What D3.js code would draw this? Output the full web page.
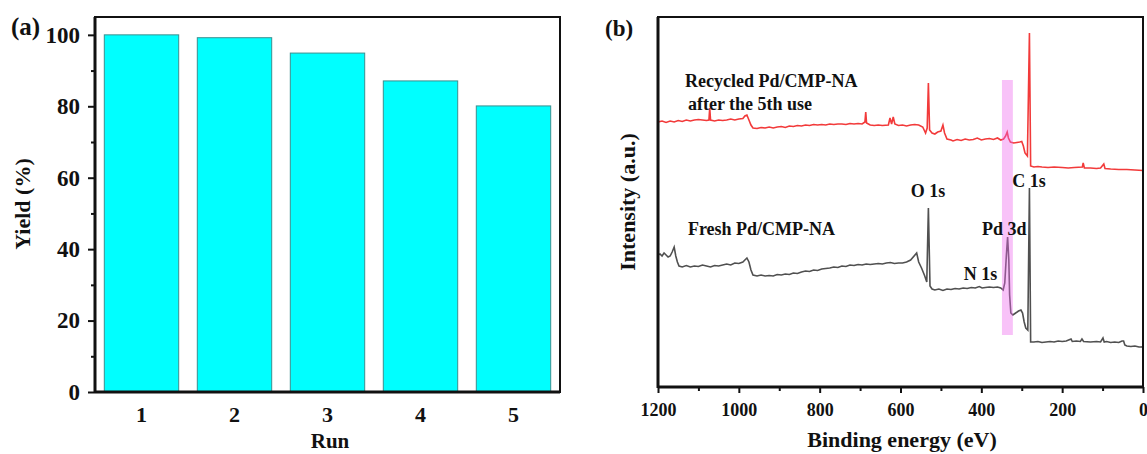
<!DOCTYPE html>
<html>
<head>
<meta charset="utf-8">
<script src="https://cdn.jsdelivr.net/npm/d3@7"></script>
<style>
  body { margin: 0; background: #fff; }
  svg text { font-family: "Liberation Serif", "Times New Roman", serif; font-weight: bold; fill: #111; }
</style>
</head>
<body>
<div id="chart"></div>
<script>
// panel (a) data
var runs = ["1", "2", "3", "4", "5"];
var yields = [100, 99.2, 94.9, 87.1, 80.1];
var yieldTicks = [0, 20, 40, 60, 80, 100];
var yieldMinor = [10, 30, 50, 70, 90];

// panel (b) data: [binding energy eV, intensity a.u.]
var energyTicks = [1200, 1000, 800, 600, 400, 200, 0];
var energyMinor = [1100, 900, 700, 500, 300, 100];
var recycled = [
  [1200,265],[1190,266],[1180,264.5],[1170,266],[1160,265],[1150,266.5],[1140,265.5],[1130,267],
  [1120,266],[1110,267],[1100,267.5],[1090,267],[1080,266.5],[1074,267],[1072,279],[1070,267],
  [1060,266],[1050,267],[1040,266.5],[1030,267],[1020,268],[1010,267],[1000,268],[990,268.5],
  [985,271],[980,272],[975,267],[970,262],[965,259],[955,258.5],[945,259.5],[935,259],[925,260],
  [915,259],[905,260],[895,260.5],[885,259.5],[875,261],[865,260.5],[855,261.5],[845,261],
  [835,262],[825,261.5],[815,262.5],[805,262],[795,262.5],[785,262],[775,263],[765,262.5],
  [755,263],[745,263],[735,262.5],[725,263.5],[715,263],[705,263.5],[695,263],[688,265],
  [686,275],[684,264],[675,262],[665,261.5],[655,262],[645,261.5],[630,262],[626,269],[622,263],
  [618,270],[614,263],[605,261.5],[595,262],[585,261],[575,262],[565,262.5],[555,262],[545,260],
  [538,254],[534,259],[531,304],[528,257],[522,254],[515,253],[508,255],[500,256],[495,262],
  [491,254],[485,248],[475,247],[470,246],[460,247.5],[450,246.5],[440,248],[430,247],[420,247.5],
  [410,249],[400,247],[390,248],[380,248.5],[370,247.5],[360,249],[352,247],[345,248],[340,251],
  [336,255],[333,249],[328,245],[320,244],[312,244.5],[305,245],[300,245.5],[296,241],[292,234],
  [286,231],[281,354],[278,221],[270,220],[260,220.5],[250,220],[235,219.5],[220,220],[200,219.5],
  [185,219],[170,219.5],[150,220],[148,224],[145,219],[130,219],[115,218.5],[105,219],[97,223],
  [94,218.5],[80,218],[60,217.5],[40,217.5],[20,217],[0,216.5]
];
var fresh = [
  [1200,132],[1195,133],[1190,131],[1185,134],[1180,132],[1175,130],[1170,131],[1165,135],
  [1160,140],[1156,131],[1152,125],[1148,121],[1140,120],[1130,121.5],[1120,120],[1110,121],
  [1100,120.5],[1090,122],[1080,121],[1070,120],[1060,121.5],[1050,121],[1040,122],[1030,123],
  [1020,122],[1010,124],[1000,123.5],[990,125],[985,127],[980,129],[975,125],[970,117],[965,112],
  [955,111],[945,112],[935,111],[925,111.5],[915,111],[905,112.5],[895,112],[885,113],[875,112.5],
  [865,114],[855,113.5],[845,115],[835,116],[825,115.5],[815,117],[805,116.5],[795,118],[785,118.5],
  [775,119],[765,120],[755,119.5],[745,121],[735,120.5],[725,122],[715,121.5],[705,122.5],[695,122],
  [685,123],[675,122.5],[665,123],[655,123.5],[645,123],[635,124],[625,124.5],[615,123.5],[605,124],
  [595,124],[585,125],[575,127],[560,134],[555,125],[548,119],[540,111],[535,105],[531,179],
  [527,101],[522,98],[515,97],[505,98],[495,96.5],[485,98],[475,97.5],[465,98.5],[455,98],[445,99],
  [435,98.5],[425,99.5],[415,99],[405,100.5],[398,99],[390,99.5],[380,100],[370,99.5],[360,100],
  [352,99],[346,97],[342,104],[338,132],[335,150],[332,127],[330,92],[327,74],[322,72],[315,74],
  [308,76],[302,77],[298,74],[294,65],[290,59],[285,57],[281,199],[278,45],[270,45],[260,45.5],
  [250,44.5],[240,45],[230,45.5],[220,45],[210,46],[200,45.5],[190,46],[181,47.5],[178,48],
  [175,45.5],[165,46],[155,45.5],[151,48],[147,45.5],[130,45],[115,45.5],[105,45],[99,49],[96,45],
  [90,45.5],[80,44.5],[70,45],[60,44.5],[52,46],[48,46],[45,42],[40,41],[30,40.5],[20,41],[10,40],
  [3,40],[0,41]
];
var pdBand = [322, 349];
var pdBandSpan = [52, 307];
var notes = [
  {text: "Recycled Pd/CMP-NA", ev: 1133, v: 300, anchor: "start"},
  {text: "after the 5th use", ev: 1126, v: 277, anchor: "start"},
  {text: "Fresh Pd/CMP-NA", ev: 1126, v: 152, anchor: "start"},
  {text: "O 1s", ev: 532, v: 190, anchor: "middle"},
  {text: "C 1s", ev: 282, v: 200, anchor: "middle"},
  {text: "Pd 3d", ev: 343, v: 152, anchor: "middle"},
  {text: "N 1s", ev: 402, v: 107, anchor: "middle"}
];

var svg = d3.select('#chart').append('svg')
    .attr('width', 1147)
    .attr('height', 454);

// ---------- panel (a) ----------
var xA = d3.scaleBand().domain(runs).range([95, 560]).paddingInner(0.2).paddingOuter(0.1);
var yA = d3.scaleLinear().domain([0, 105]).range([392, 17]);
var ga = svg.append('g');

ga.selectAll('rect.bar').data(yields).enter().append('rect')
    .attr('class', 'bar')
    .attr('x', function(d, i) { return xA(runs[i]); })
    .attr('width', xA.bandwidth())
    .attr('y', function(d) { return yA(d); })
    .attr('height', function(d) { return yA(0) - yA(d); })
    .attr('fill', '#00ffff')
    .attr('stroke', '#3a8f8f')
    .attr('stroke-width', 1);

ga.append('g').attr('class', 'yax').attr('transform', 'translate(95,0)')
    .call(d3.axisLeft(yA).tickValues(yieldTicks).tickSize(7).tickPadding(8))
    .call(function(g) { g.select('.domain').remove(); });
ga.append('g').attr('transform', 'translate(95,0)')
    .call(d3.axisLeft(yA).tickValues(yieldMinor).tickSize(4).tickFormat(''))
    .call(function(g) { g.select('.domain').remove(); });
ga.append('g').attr('class', 'xax').attr('transform', 'translate(0,392)')
    .call(d3.axisBottom(xA).tickSize(0).tickPadding(14))
    .call(function(g) { g.select('.domain').remove(); });

ga.selectAll('.yax .tick text').style('font-size', '23px').attr('fill', '#111');
ga.selectAll('.xax .tick text').style('font-size', '22px').attr('fill', '#111');
ga.selectAll('.tick line').attr('stroke', '#111').attr('stroke-width', 2);

ga.append('rect').attr('x', 95).attr('y', 17).attr('width', 465).attr('height', 375)
    .attr('fill', 'none').attr('stroke', '#111').attr('stroke-width', 2);
ga.append('line').attr('x1', 95).attr('x2', 560).attr('y1', 392).attr('y2', 392)
    .attr('stroke', '#111').attr('stroke-width', 3);
ga.append('line').attr('x1', 95).attr('x2', 95).attr('y1', 17).attr('y2', 393)
    .attr('stroke', '#111').attr('stroke-width', 3);

ga.append('text').text('(a)').attr('x', 11).attr('y', 35).style('font-size', '25px');
ga.append('text').text('Yield (%)')
    .attr('transform', 'translate(30,204) rotate(-90)')
    .attr('text-anchor', 'middle').style('font-size', '22px');
ga.append('text').text('Run').attr('x', 330).attr('y', 448)
    .attr('text-anchor', 'middle').style('font-size', '21px');

// ---------- panel (b) ----------
var xB = d3.scaleLinear().domain([1200, 0]).range([658, 1143]);
var yB = d3.scaleLinear().domain([0, 370]).range([387, 17]);
var gb = svg.append('g');
var line = d3.line().x(function(d) { return xB(d[0]); }).y(function(d) { return yB(d[1]); });

gb.append('path').datum(recycled).attr('d', line)
    .attr('fill', 'none').attr('stroke', '#f23a3a').attr('stroke-width', 1.6);
gb.append('path').datum(fresh).attr('d', line)
    .attr('fill', 'none').attr('stroke', '#505050').attr('stroke-width', 1.6);

gb.append('rect')
    .attr('x', xB(pdBand[1])).attr('width', xB(pdBand[0]) - xB(pdBand[1]))
    .attr('y', yB(pdBandSpan[1])).attr('height', yB(pdBandSpan[0]) - yB(pdBandSpan[1]))
    .attr('fill', '#ee66ee').attr('opacity', 0.4);

gb.append('g').attr('transform', 'translate(0,387)')
    .call(d3.axisBottom(xB).tickValues(energyTicks).tickSize(6).tickPadding(10).tickFormat(d3.format('d')))
    .call(function(g) { g.select('.domain').remove(); });
gb.append('g').attr('transform', 'translate(0,387)')
    .call(d3.axisBottom(xB).tickValues(energyMinor).tickSize(4).tickFormat(''))
    .call(function(g) { g.select('.domain').remove(); });
gb.selectAll('.tick text').style('font-size', '18px').attr('fill', '#111');
gb.selectAll('.tick line').attr('stroke', '#111').attr('stroke-width', 2);

gb.append('rect').attr('x', 658).attr('y', 17).attr('width', 485).attr('height', 370)
    .attr('fill', 'none').attr('stroke', '#111').attr('stroke-width', 2);
gb.append('line').attr('x1', 658).attr('x2', 1143).attr('y1', 387).attr('y2', 387)
    .attr('stroke', '#111').attr('stroke-width', 3);
gb.append('line').attr('x1', 658).attr('x2', 658).attr('y1', 17).attr('y2', 388)
    .attr('stroke', '#111').attr('stroke-width', 3);

gb.selectAll('text.note').data(notes).enter().append('text')
    .attr('class', 'note')
    .attr('x', function(d) { return xB(d.ev); })
    .attr('y', function(d) { return yB(d.v); })
    .attr('text-anchor', function(d) { return d.anchor; })
    .style('font-size', '18px')
    .text(function(d) { return d.text; });

gb.append('text').text('(b)').attr('x', 605).attr('y', 36).style('font-size', '23px');
gb.append('text').text('Intensity (a.u.)')
    .attr('transform', 'translate(635,202) rotate(-90)')
    .attr('text-anchor', 'middle').style('font-size', '22px');
gb.append('text').text('Binding energy (eV)').attr('x', 902).attr('y', 447)
    .attr('text-anchor', 'middle').style('font-size', '22px');
</script>
</body>
</html>
